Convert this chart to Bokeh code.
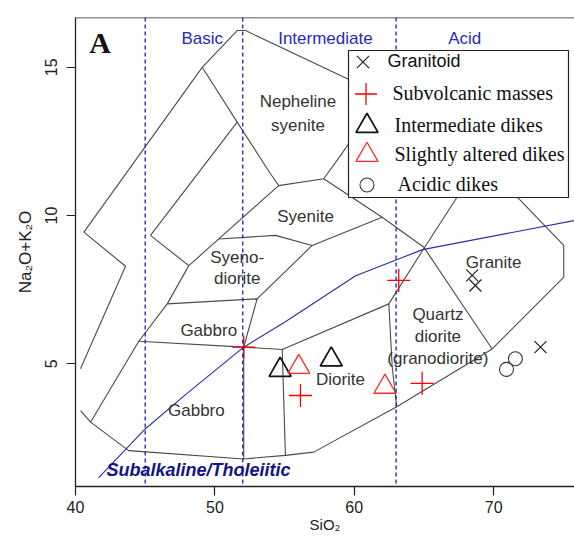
from bokeh.plotting import figure
from bokeh.models import (Range1d, FixedTicker, Span, BoxAnnotation, Legend,
                          LegendItem, Label)
from bokeh.core.properties import value
from bokeh.embed import file_html
from bokeh.resources import INLINE

# ---------------- data (SiO2 wt%, Na2O+K2O wt%) ----------------
granitoid_sio2 = [68.46, 68.69, 73.36]
granitoid_alk = [7.98, 7.64, 5.56]

subvolcanic_sio2 = [52.07, 63.19, 56.14, 64.87]
subvolcanic_alk = [5.56, 7.81, 3.93, 4.34]

intermediate_sio2 = [54.68, 58.35]
intermediate_alk = [4.79, 5.14]

altered_sio2 = [56.02, 62.20]
altered_alk = [4.89, 4.22]

acidic_sio2 = [71.56, 70.92]
acidic_alk = [5.17, 4.81]

x_ticks = [40, 50, 60, 70]
y_ticks = [5, 10, 15]

# silica class divisions and names
silica_divisions = [45, 52, 63]
silica_class_names = ["Basic", "Intermediate", "Acid"]
silica_class_x = [49.09, 57.93, 67.92]
silica_class_y = [15.96, 15.96, 15.96]

# field boundaries of the plutonic TAS diagram (x list, y list per polyline)
field_lines = [
    ([40.36, 43.59, 40.60, 49.09, 51.60, 52.20, 59.01, 66.9, 72.04, 75.03, 75.03,
      69.89, 63.05, 57.09, 55.06, 52.07, 43.82, 41.08, 40.36],
     [4.83, 8.29, 9.44, 15.00, 16.24, 16.24, 14.72, 13.0, 10.45, 8.99, 7.92,
      5.50, 3.55, 2.02, 1.91, 1.79, 2.07, 3.03, 3.42]),
    ([51.60, 45.38, 48.13, 46.58, 44.54, 41.08],
     [13.15, 9.33, 8.31, 7.02, 5.76, 3.03]),
    ([49.09, 51.60, 53.99, 54.58, 57.81, 59.01, 60.0],
     [15.00, 13.15, 11.41, 11.01, 11.24, 12.02, 12.7]),
    ([48.13, 50.28, 54.58], [8.31, 9.21, 11.01]),
    ([50.28, 54.35, 56.98, 62.0], [9.21, 9.33, 8.99, 9.94]),
    ([57.81, 62.0, 64.99, 69.89], [11.24, 9.94, 8.93, 5.50]),
    ([56.98, 53.03, 52.07, 52.07], [8.99, 7.19, 5.56, 1.79]),
    ([46.58, 53.03], [7.02, 7.19]),
    ([44.54, 52.07, 54.83, 62.48, 64.75, 67.14, 68.3],
     [5.76, 5.56, 5.48, 7.02, 8.71, 10.45, 11.3]),
    ([54.83, 55.06], [5.48, 1.91]),
    ([62.48, 62.72, 63.05], [7.02, 4.9, 3.55]),
]

# alkaline / subalkaline divide (Irvine & Baragar)
divide_sio2 = [41.65, 45.0, 48.0, 52.07, 55.0, 60.1, 64.9, 75.8]
divide_alk = [1.15, 2.8, 4.0, 5.56, 6.4, 7.97, 8.85, 9.83]

# rock-field names
field_names = ["Nepheline", "syenite", "Syenite", "Syeno-", "diorite", "Gabbro",
               "Gabbro", "Diorite", "Quartz", "diorite", "(granodiorite)", "Granite"]
field_name_x = [55.96, 55.96, 56.50, 51.60, 51.60, 49.56, 48.67, 59.01,
                66.00, 66.00, 66.00, 70.00]
field_name_y = [13.83, 13.04, 9.98, 8.57, 7.88, 6.12, 3.42, 4.46,
                6.65, 5.93, 5.19, 8.42]

# ---------------- figure ----------------
FRAME_LEFT_PAGE = 75     # page px of the plot frame's left edge
FRAME_BOTTOM_PAGE = 486  # page px of the plot frame's bottom edge

p = figure(width=574, height=536,
           x_range=Range1d(40, 75.8), y_range=Range1d(0.86, 16.68),
           output_backend="svg", toolbar_location=None,
           min_border_left=75, min_border_right=0, min_border_top=17,
           min_border_bottom=50)
p.outline_line_color = None
p.grid.visible = False
p.background_fill_color = "white"
p.border_fill_color = "white"

SANS = "Liberation Sans"
SERIF = "Liberation Serif"

for ax in (p.xaxis[0], p.yaxis[0]):
    ax.axis_line_color = "#222222"
    ax.axis_line_width = 1.3
    ax.major_tick_line_color = "#222222"
    ax.major_tick_line_width = 1.2
    ax.minor_tick_line_color = None
    ax.major_tick_in = 0
    ax.major_label_text_font = SANS
    ax.major_label_text_font_size = "16px"
    ax.major_label_text_color = "#222222"
    ax.axis_label_text_font = SANS
    ax.axis_label_text_font_style = "normal"
    ax.axis_label_text_color = "#222222"

xa = p.xaxis[0]
xa.ticker = FixedTicker(ticks=x_ticks)
xa.major_tick_out = 9
xa.major_label_standoff = 5
xa.axis_label = "SiO\u2082"
xa.axis_label_standoff = 0
xa.axis_label_text_font_size = "15px"

ya = p.yaxis[0]
ya.ticker = FixedTicker(ticks=y_ticks)
ya.major_tick_out = 9
ya.major_label_standoff = 9
ya.major_label_orientation = "vertical"
ya.axis_label = "Na\u2082O+K\u2082O"
ya.axis_label_standoff = 8
ya.axis_label_text_font_size = "17px"

# top border line
p.add_layout(Span(location=16.68, dimension="width", line_color="#222222",
                  line_width=1.3))

# field boundaries
p.multi_line([l[0] for l in field_lines], [l[1] for l in field_lines],
             line_color="#4a4a4a", line_width=1.1)

# alkaline/subalkaline divide
p.line(divide_sio2, divide_alk, line_color="#2b2ba6", line_width=1.1)

# silica class dashed lines
for xd in silica_divisions:
    p.add_layout(Span(location=xd, dimension="height", line_color="#1c1cb0",
                      line_width=1.3, line_dash="4 3"))

# class names
p.text(x=silica_class_x, y=silica_class_y, text=silica_class_names,
       text_font=value(SANS), text_font_size=value("17px"),
       text_color="#2a2ab8", text_align="center", text_baseline="middle")

# field names
p.text(x=field_name_x, y=field_name_y, text=field_names,
       text_font=value(SANS), text_font_size=value("17px"),
       text_color="#333333", text_align="center", text_baseline="middle")

p.add_layout(Label(x=41.76, y=15.83, text="A", text_font=SERIF,
                   text_font_size="30px", text_font_style="bold",
                   text_color="#111111", text_align="center",
                   text_baseline="middle"))
p.add_layout(Label(x=42.22, y=1.42, text="Subalkaline/Tholeiitic",
                   text_font=SANS, text_font_size="18px",
                   text_font_style="bold italic", text_color="#12128a",
                   text_align="left", text_baseline="middle"))

# ---------------- samples ----------------
r_gran = p.scatter(granitoid_sio2, granitoid_alk, marker="x", size=17,
                   line_color="#222222", line_width=1.2)
r_sub = p.scatter(subvolcanic_sio2, subvolcanic_alk, marker="cross", size=23,
                  line_color="#ff0000", line_width=1.3)
r_int = p.scatter(intermediate_sio2, intermediate_alk, marker="triangle",
                  size=22, line_color="#111111", fill_color=None, line_width=1.7)
r_alt = p.scatter(altered_sio2, altered_alk, marker="triangle", size=22,
                  line_color="#ff2a2a", fill_color=None, line_width=1.3)
r_aci = p.scatter(acidic_sio2, acidic_alk, marker="circle", size=14,
                  line_color="#333333", fill_color=None, line_width=1.1)

# ---------------- legend ----------------
box_left, box_right, box_top, box_bottom = 348, 568, 50, 197  # page px
p.add_layout(BoxAnnotation(left=box_left - FRAME_LEFT_PAGE,
                           right=box_right - FRAME_LEFT_PAGE,
                           top=FRAME_BOTTOM_PAGE - box_top,
                           bottom=FRAME_BOTTOM_PAGE - box_bottom,
                           left_units="screen", right_units="screen",
                           top_units="screen", bottom_units="screen",
                           fill_color="white", fill_alpha=1.0,
                           line_color="#222222", line_width=1.2,
                           line_alpha=1.0))


def add_entry(renderer, label, cx, cy, box, standoff, font, size):
    leg = Legend(items=[LegendItem(label=label, renderers=[renderer])],
                 location=(cx - box / 2 - FRAME_LEFT_PAGE,
                           FRAME_BOTTOM_PAGE - (cy + box / 2)),
                 glyph_width=box, glyph_height=box, label_height=box,
                 label_standoff=standoff, padding=0, margin=0, spacing=0,
                 border_line_color=None, background_fill_alpha=0,
                 label_text_font=font, label_text_font_size=size,
                 label_text_color="#111111", click_policy="none")
    p.add_layout(leg)


add_entry(r_gran, "Granitoid", 362, 61.7, 43, 4, SANS, "18px")
add_entry(r_sub, "Subvolcanic masses", 365, 93, 55, -4, SERIF, "20px")
add_entry(r_int, "Intermediate dikes", 366, 125, 55, 1, SERIF, "20px")
add_entry(r_alt, "Slightly altered dikes", 366, 154.5, 55, 1, SERIF, "20px")
add_entry(r_aci, "Acidic dikes", 366, 184, 35, 14, SERIF, "20px")

open("out.html", "w").write(file_html(p, INLINE))
